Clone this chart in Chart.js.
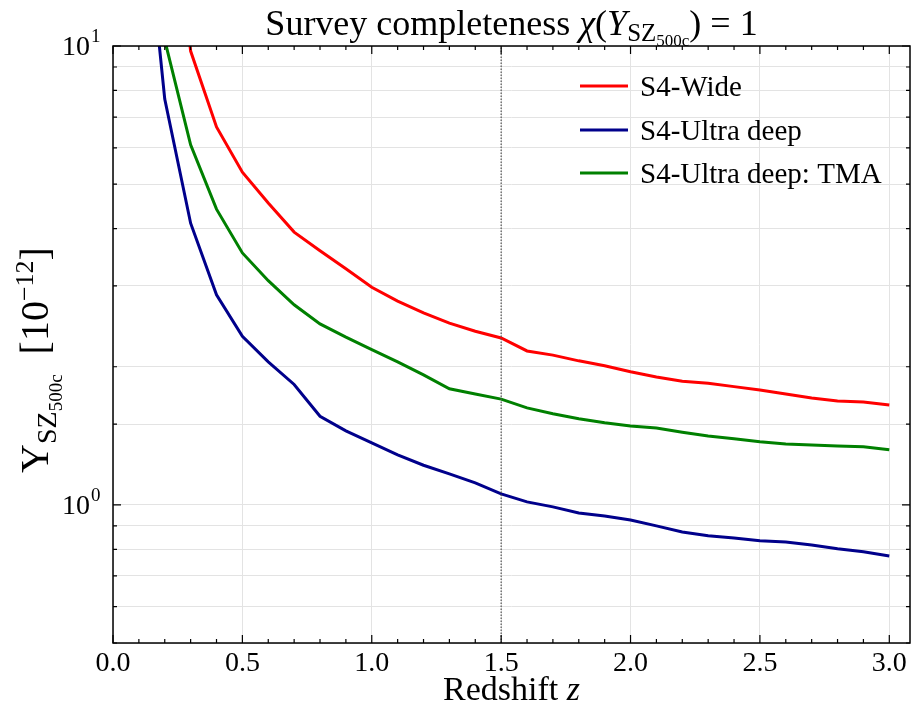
<!DOCTYPE html>
<html lang="en">
<head>
    <meta charset="UTF-8">
    <title>Survey completeness</title>
    <script src="https://cdn.jsdelivr.net/npm/chart.js"></script>
    <style>
        body { margin: 0; background: #fff; }
        #wrap { width: 913px; height: 717px; position: relative; }
    </style>
</head>
<body>
    <div id="wrap"><canvas id="complChart"></canvas></div>

    <script>
        // redshift grid
        const zValues = [0.1, 0.2, 0.3, 0.4, 0.5, 0.6, 0.7, 0.8, 0.9, 1.0,
                         1.1, 1.2, 1.3, 1.4, 1.5, 1.6, 1.7, 1.8, 1.9, 2.0,
                         2.1, 2.2, 2.3, 2.4, 2.5, 2.6, 2.7, 2.8, 2.9, 3.0];

        // Y_SZ500c limit [1e-12]
        const wideValues = [null, 30, 9.75, 6.66, 5.31, 4.55, 3.93, 3.58, 3.27, 2.98,
                            2.78, 2.62, 2.49, 2.39, 2.31, 2.165, 2.12, 2.06, 2.01, 1.95,
                            1.90, 1.86, 1.84, 1.81, 1.78, 1.745, 1.71, 1.685, 1.675, 1.65];
        const ultraValues = [27.5, 7.66, 4.11, 2.87, 2.33, 2.05, 1.83, 1.56, 1.45, 1.365,
                             1.285, 1.22, 1.168, 1.117, 1.057, 1.015, 0.99, 0.96, 0.946, 0.927,
                             0.90, 0.873, 0.856, 0.847, 0.835, 0.83, 0.818, 0.802, 0.79, 0.774];
        const tmaValues = [null, 10.3, 6.09, 4.41, 3.54, 3.08, 2.73, 2.48, 2.32, 2.18,
                           2.05, 1.92, 1.79, 1.745, 1.70, 1.627, 1.58, 1.54, 1.51, 1.486,
                           1.47, 1.44, 1.413, 1.393, 1.372, 1.358, 1.351, 1.344, 1.338, 1.318];

        const seriesNames = ['S4-Wide', 'S4-Ultra deep', 'S4-Ultra deep: TMA'];
        const seriesColors = ['#ff0000', '#00008b', '#008000'];
        const markerZ = 1.5;
        const yRange = [0.5, 10];
        const xRange = [0, 3.08];

        const SERIF = '"Liberation Serif", "DejaVu Serif", serif';

        function toPoints(vals) {
            return zValues.map((z, i) => ({ x: z, y: vals[i] }));
        }

        function isMajorX(v) {
            return Math.abs(v * 2 - Math.round(v * 2)) < 1e-6;
        }
        function isMajorY(v) {
            const l = Math.log10(v);
            return Math.abs(l - Math.round(l)) < 1e-6;
        }

        // draw a row of text pieces (sub/superscripts) centred on x
        function drawRich(ctx, segs, x, y) {
            let total = 0;
            segs.forEach(s => {
                ctx.font = (s.it ? 'italic ' : '') + s.size + 'px ' + SERIF;
                s.w = ctx.measureText(s.t).width;
                total += s.w;
            });
            let cx = x - total / 2;
            ctx.textAlign = 'left';
            ctx.textBaseline = 'alphabetic';
            segs.forEach(s => {
                ctx.font = (s.it ? 'italic ' : '') + s.size + 'px ' + SERIF;
                ctx.fillText(s.t, cx, y + (s.dy || 0));
                cx += s.w;
            });
        }

        const decorPlugin = {
            id: 'decor',
            afterDatasetsDraw(chart) {
                const ctx = chart.ctx;
                const area = chart.chartArea;
                const xs = chart.scales.x, ys = chart.scales.y;
                ctx.save();
                ctx.fillStyle = '#000';
                ctx.strokeStyle = '#000';

                // frame
                ctx.lineWidth = 1.5;
                ctx.strokeRect(area.left, area.top, area.right - area.left, area.bottom - area.top);

                // inward ticks on all sides
                ctx.lineWidth = 1.2;
                ctx.beginPath();
                xs.ticks.forEach(t => {
                    const px = xs.getPixelForValue(t.value);
                    const len = isMajorX(t.value) ? 8 : 4;
                    ctx.moveTo(px, area.bottom); ctx.lineTo(px, area.bottom - len);
                    ctx.moveTo(px, area.top); ctx.lineTo(px, area.top + len);
                });
                ys.ticks.forEach(t => {
                    const py = ys.getPixelForValue(t.value);
                    const len = isMajorY(t.value) ? 8 : 4;
                    ctx.moveTo(area.left, py); ctx.lineTo(area.left + len, py);
                    ctx.moveTo(area.right, py); ctx.lineTo(area.right - len, py);
                });
                ctx.stroke();

                // x tick labels
                ctx.font = '28px ' + SERIF;
                ctx.textAlign = 'center';
                ctx.textBaseline = 'middle';
                xs.ticks.forEach(t => {
                    if (!isMajorX(t.value)) return;
                    ctx.fillText(t.value.toFixed(1), xs.getPixelForValue(t.value), area.bottom + 21);
                });

                // y tick labels 10^n
                ys.ticks.forEach(t => {
                    if (!isMajorY(t.value)) return;
                    const py = ys.getPixelForValue(t.value);
                    const p = Math.round(Math.log10(t.value));
                    ctx.font = '28px ' + SERIF;
                    ctx.textAlign = 'right';
                    ctx.textBaseline = 'middle';
                    ctx.fillText('10', 90, py + 2);
                    ctx.font = '19px ' + SERIF;
                    ctx.textAlign = 'left';
                    ctx.fillText(String(p), 91, py - 9);
                });

                // legend
                const legY = [86, 130, 173];
                seriesNames.forEach((name, i) => {
                    ctx.strokeStyle = seriesColors[i];
                    ctx.lineWidth = 3;
                    ctx.beginPath();
                    ctx.moveTo(580, legY[i]); ctx.lineTo(628, legY[i]);
                    ctx.stroke();
                    ctx.font = '29px ' + SERIF;
                    ctx.textAlign = 'left';
                    ctx.textBaseline = 'middle';
                    ctx.fillText(name, 640, legY[i] + 2);
                });

                // title
                const midX = (area.left + area.right) / 2;
                drawRich(ctx, [
                    { t: 'Survey completeness ', size: 36 },
                    { t: 'χ', size: 36, it: true },
                    { t: '(', size: 36 },
                    { t: 'Y', size: 36, it: true },
                    { t: 'SZ', size: 25, dy: 6 },
                    { t: '500c', size: 17, dy: 11 },
                    { t: ') = 1', size: 36 }
                ], midX, 35);

                // x label
                drawRich(ctx, [
                    { t: 'Redshift ', size: 34 },
                    { t: 'z', size: 34, it: true }
                ], midX, 700);

                // y label
                ctx.translate(35, 360);
                ctx.rotate(-Math.PI / 2);
                drawRich(ctx, [
                    { t: 'Y', size: 40 },
                    { t: 'SZ', size: 28, dy: 8 },
                    { t: '500c', size: 19, dy: 14 },
                    { t: '  [10', size: 40 },
                    { t: '\u221212', size: 26, dy: -15 },
                    { t: ']', size: 40 }
                ], 0, 13);
                ctx.restore();
            }
        };

        const datasets = [wideValues, ultraValues, tmaValues].map((vals, i) => ({
            label: seriesNames[i],
            data: toPoints(vals),
            borderColor: seriesColors[i],
            borderWidth: 3,
            pointRadius: 0,
            tension: 0,
            fill: false,
            clip: 0
        }));
        datasets.unshift({
            label: 'z marker',
            data: [{ x: markerZ, y: yRange[0] }, { x: markerZ, y: yRange[1] }],
            borderColor: '#555',
            borderWidth: 1.2,
            borderDash: [1.5, 1.5],
            pointRadius: 0,
            fill: false
        });

        new Chart(document.getElementById('complChart'), {
            type: 'line',
            data: { datasets: datasets },
            options: {
                responsive: true,
                maintainAspectRatio: false,
                animation: false,
                layout: { padding: { top: 46, left: 113, right: 3, bottom: 74 } },
                plugins: {
                    legend: { display: false },
                    tooltip: { enabled: false },
                    title: { display: false }
                },
                scales: {
                    x: {
                        type: 'linear',
                        min: xRange[0],
                        max: xRange[1],
                        ticks: {
                            display: false,
                            stepSize: 0.1,
                            autoSkip: false,
                            includeBounds: false
                        },
                        grid: {
                            drawTicks: false,
                            color: c => (c.tick && isMajorX(c.tick.value)) ? '#e3e3e3' : 'rgba(0,0,0,0)'
                        },
                        border: { display: false }
                    },
                    y: {
                        type: 'logarithmic',
                        min: yRange[0],
                        max: yRange[1],
                        ticks: { display: false },
                        grid: { drawTicks: false, color: '#e3e3e3' },
                        border: { display: false }
                    }
                }
            },
            plugins: [decorPlugin]
        });
    </script>
</body>
</html>
